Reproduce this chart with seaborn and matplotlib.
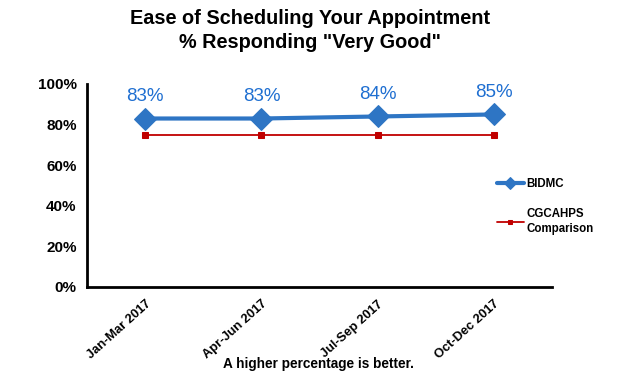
import numpy as np
import pandas as pd
import matplotlib.pyplot as plt
import matplotlib.ticker as mtick
import seaborn as sns

# Data
quarters = ['Jan-Mar 2017', 'Apr-Jun 2017', 'Jul-Sep 2017', 'Oct-Dec 2017']
bidmc = [83, 83, 84, 85]
cgcahps = [75, 75, 75, 75]
y_ticks = [0, 20, 40, 60, 80, 100]

BLUE = '#2e75c4'
LABEL_BLUE = '#1f6fd1'
RED = '#c00000'

sns.set_style("white")
plt.rcParams['font.family'] = ['Liberation Sans', 'DejaVu Sans']
plt.rcParams['font.weight'] = 'bold'
plt.rcParams['text.color'] = 'black'
plt.rcParams['xtick.color'] = 'black'
plt.rcParams['ytick.color'] = 'black'

df = pd.DataFrame({
    'Quarter': quarters * 2,
    'Value': bidmc + cgcahps,
    'Series': ['BIDMC'] * 4 + ['CGCAHPS\nComparison'] * 4,
})

fig = plt.figure(figsize=(6.2, 3.74), dpi=100)
ax = fig.add_axes([87 / 620, 1 - 287 / 374, (552 - 87) / 620, (287 - 84) / 374])

sns.lineplot(data=df[df['Series'] == 'BIDMC'], x='Quarter', y='Value',
             color=BLUE, linewidth=3.0, marker='D', markersize=11,
             markeredgecolor=BLUE, label='BIDMC', ax=ax)
sns.lineplot(data=df[df['Series'] != 'BIDMC'], x='Quarter', y='Value',
             color=RED, linewidth=1.3, marker='s', markersize=4.2,
             markeredgecolor=RED, label='CGCAHPS\nComparison', ax=ax)

for i, v in enumerate(bidmc):
    ax.annotate(f'{v}%', (i, v), xytext=(0, 16), textcoords='offset points',
                ha='center', va='center', fontsize=13.5, fontweight='normal',
                color=LABEL_BLUE)

ax.set_xlim(-0.5, len(quarters) - 0.5)
ax.set_ylim(0, 100)
ax.set_yticks(y_ticks)
ax.yaxis.set_major_formatter(mtick.PercentFormatter(xmax=100, decimals=0))
ax.set_xticks(range(len(quarters)))
ax.set_xticklabels(quarters, rotation=42, ha='right', rotation_mode='anchor',
                   fontsize=9.3, fontweight='bold')
ax.set_xticks(np.arange(-0.5, len(quarters)), minor=True)
ax.tick_params(axis='x', which='major', length=0, pad=8)
ax.tick_params(axis='x', which='minor', length=4.5, width=1.5, direction='out')
ax.tick_params(axis='y', length=4.5, width=1.5, direction='out', labelsize=11, pad=3)
for lbl in ax.get_yticklabels():
    lbl.set_fontweight('bold')
ax.set_xlabel('')
ax.set_ylabel('')
for side in ['top', 'right']:
    ax.spines[side].set_visible(False)
for side in ['left', 'bottom']:
    ax.spines[side].set_linewidth(2)
    ax.spines[side].set_color('black')

leg = ax.legend(loc='upper left', bbox_to_anchor=(497 / 620, 1 - 178 / 374),
                bbox_transform=fig.transFigure, frameon=False, fontsize=8.3,
                handlelength=2.3, handletextpad=0.25, labelspacing=1.6,
                borderaxespad=0, borderpad=0, markerscale=0.6)
for t in leg.get_texts():
    t.set_linespacing(1.3)

fig.text(0.5, 1 - 18 / 374, 'Ease of Scheduling Your Appointment', ha='center',
         va='center', fontsize=14.3, fontweight='bold')
fig.text(0.5, 1 - 42 / 374, '% Responding "Very Good"', ha='center',
         va='center', fontsize=14.3, fontweight='bold')
fig.text(318 / 620, 1 - 364 / 374, 'A higher percentage is better.', ha='center',
         va='center', fontsize=9.8, fontweight='bold')

fig.savefig('out.png', dpi=100)
